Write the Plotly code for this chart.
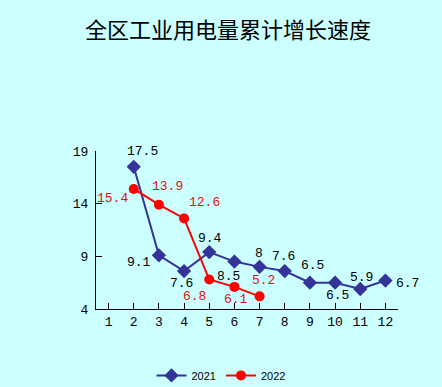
import plotly.graph_objects as go

months = [1, 2, 3, 4, 5, 6, 7, 8, 9, 10, 11, 12]
x2021 = [2, 3, 4, 5, 6, 7, 8, 9, 10, 11, 12]
v2021 = [17.5, 9.1, 7.6, 9.4, 8.5, 8, 7.6, 6.5, 6.5, 5.9, 6.7]
x2022 = [2, 3, 4, 5, 6, 7]
v2022 = [15.4, 13.9, 12.6, 6.8, 6.1, 5.2]
yticks = [4, 9, 14, 19]
title = "全区工业用电量累计增长速度"

# label offsets (pixels, dx right, dy up)
off2021 = [(9, 15), (-20, -7), (-3, -12), (1, 14), (-6, -15), (-1, 13), (-1, 15), (3, 17), (2, -13), (1, 11), (22, -3)]
off2022 = [(-21, -10), (9, 18), (20, 16), (-15, -17), (2, -13), (4, 16)]

BLUE = "#333399"
RED = "#FF0000"
BG = "#CCFFFF"
NUMFONT = "Liberation Mono"

fig = go.Figure()
fig.add_trace(go.Scatter(x=x2021, y=v2021, mode="lines+markers", name="2021",
                         line=dict(color=BLUE, width=2),
                         marker=dict(symbol="diamond", size=11, color=BLUE)))
fig.add_trace(go.Scatter(x=x2022, y=v2022, mode="lines+markers", name="2022",
                         line=dict(color=RED, width=2),
                         marker=dict(symbol="circle", size=10, color=RED)))

anns = []
for xv, yv, (dx, dy) in zip(x2021, v2021, off2021):
    anns.append(dict(x=xv, y=yv, xref="x", yref="y", text=f"{yv:g}", showarrow=False,
                     xshift=dx, yshift=dy, font=dict(family=NUMFONT, size=13, color="black")))
for xv, yv, (dx, dy) in zip(x2022, v2022, off2022):
    anns.append(dict(x=xv, y=yv, xref="x", yref="y", text=f"{yv:g}", showarrow=False,
                     xshift=dx, yshift=dy, font=dict(family=NUMFONT, size=13, color="#E01010")))

fig.update_layout(
    width=442, height=387,
    paper_bgcolor=BG, plot_bgcolor=BG,
    margin=dict(l=96, r=44, t=151, b=78, autoexpand=False),
    title=dict(text=title, x=0.516, xanchor="center", y=0.922, yanchor="middle",
               font=dict(family="Noto Sans CJK SC", size=22, color="black")),
    showlegend=True,
    legend=dict(orientation="h", xref="container", yref="container", x=0.5, xanchor="center",
                y=0.03, yanchor="middle", font=dict(family="Arial, Liberation Sans", size=11, color="black"),
                bgcolor="rgba(0,0,0,0)"),
    annotations=anns,
    xaxis=dict(range=[0.5, 12.5], tickmode="array", tickvals=months, ticktext=[str(m) for m in months],
               tickson="boundaries", ticks="inside", ticklen=6, tickcolor="black",
               showline=True, linecolor="black", linewidth=1, showgrid=False, zeroline=False,
               automargin=False,
               tickfont=dict(family=NUMFONT, size=13, color="black")),
    yaxis=dict(range=[4, 19], tickmode="array", tickvals=yticks, ticks="inside", ticklen=6,
               tickcolor="black", showline=True, linecolor="black", linewidth=1, showgrid=False,
               zeroline=False, ticklabelstandoff=4, automargin=False,
               tickfont=dict(family=NUMFONT, size=13, color="black")),
)

fig.write_html("out.html", config={"displayModeBar": False},
               post_script="document.body.style.margin='0';document.body.style.background='#CCFFFF';")
